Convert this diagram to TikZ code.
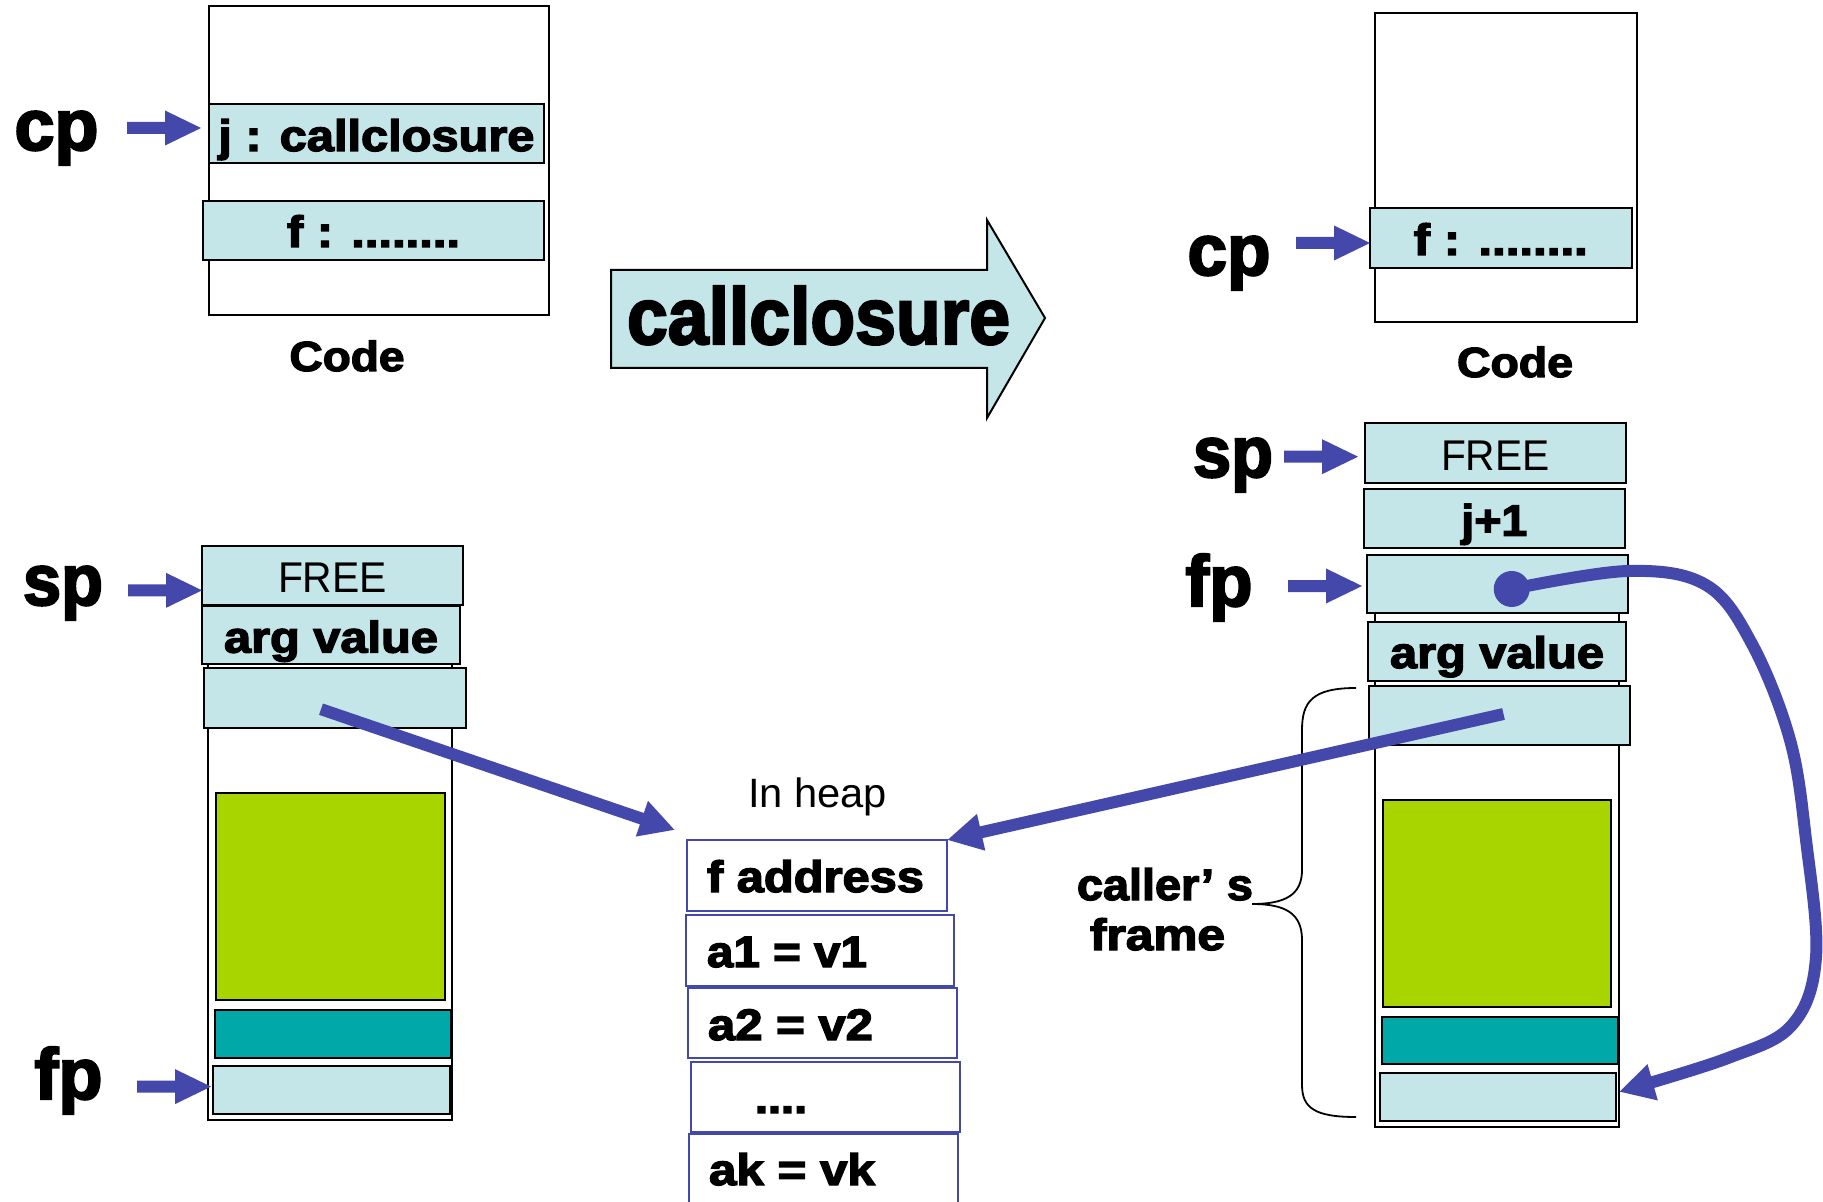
\documentclass[tikz,border=0pt]{standalone}
\usepackage{fontspec}
\usepackage{graphicx}
\usetikzlibrary{arrows.meta,calc}
\newfontfamily\hv[BoldFeatures={FakeBold=3}]{Liberation Sans}
\newcommand\hvb{\hv\bfseries}
\newcommand\fitw[2]{\resizebox{#1}{\height}{#2}}
\definecolor{cellc}{RGB}{196,230,232}
\definecolor{greenc}{RGB}{168,212,0}
\definecolor{tealc}{RGB}{0,168,168}
\definecolor{bluec}{RGB}{68,72,170}
\newcommand\mkbox[7]{\node[#6, minimum width={(#4-(#2))*0.5pt}, minimum height={(#5-(#3))*0.5pt}] (#1) at ({(#2+#4)/2},{(#3+#5)/2}) {#7};}
\begin{document}
\begin{tikzpicture}[x=0.5pt, y=-0.5pt,
  every node/.style={inner sep=0pt, outer sep=0pt},
  bl/.style={text height=#1, text depth=0pt},
  plain/.style={draw=black, line width=1pt, fill=white},
  cell/.style={draw=black, line width=1pt, fill=cellc},
  greenbox/.style={draw=black, line width=1pt, fill=greenc},
  tealbox/.style={draw=black, line width=1pt, fill=tealc},
  heap/.style={draw=bluec, line width=1pt, fill=white},
  bodyb/.style={font=\hvb\fontsize{22pt}{26pt}\selectfont},
  bodyr/.style={font=\hv\fontsize{21.5pt}{26pt}\selectfont},
  biglbl/.style={font=\hvb\fontsize{36pt}{40pt}\selectfont, anchor=base},
  codelbl/.style={font=\hvb\fontsize{21pt}{24pt}\selectfont, anchor=base},
  conn/.style={draw=bluec, line width=6pt, -{Triangle[length=17.5pt,width=17.5pt]}},
  barrow/.pic={\fill[bluec] (0,0) -- (-36,-17.5) -- (-36,-6) -- (-74,-6) -- (-74,6) -- (-36,6) -- (-36,17.5) -- cycle;}
]
\fill[white] (0,0) rectangle (1823,1202);
\useasboundingbox (0,0) rectangle (1823,1202);

% ---- left code ----
\mkbox{lcode}{208.6}{6}{548.8}{315}{plain}{}
\mkbox{ljbox}{208.6}{104}{544.2}{163}{cell,bodyb,bl=17.5pt}{\fitw{158pt}{j : callclosure}}
\mkbox{lfbox}{202.8}{201}{544.2}{260}{cell,bodyb,bl=16.5pt}{\fitw{86.5pt}{f : ........}}
\node[codelbl] (codeL) at (347,371) {\fitw{57.5pt}{Code}};
\node[biglbl] (cpL) at (56.5,150) {\fitw{42pt}{cp}};
\pic at ($(ljbox.west)+(-7.6,-5.5)$) {barrow};

% ---- right code ----
\mkbox{rcode}{1375}{13}{1637}{322}{plain}{}
\mkbox{rfbox}{1370}{208}{1631.5}{268}{cell,bodyb,bl=17pt}{\fitw{87pt}{f : ........}}
\node[codelbl] (codeR) at (1515,377) {\fitw{58pt}{Code}};
\node[biglbl] (cpR) at (1229,275) {\fitw{41.5pt}{cp}};
\pic at ($(rfbox.west)+(0,5)$) {barrow};

% ---- big arrow ----
\draw[draw=black, line width=1pt, fill=cellc] (611,270) -- (987,270) -- (987,220) -- (1045,318) -- (987,418) -- (987,368) -- (611,368) -- cycle;
\node[font=\hvb\fontsize{40pt}{44pt}\selectfont, anchor=base] (ccl) at (818.5,344) {\fitw{191.5pt}{callclosure}};

% ---- left stack ----
\mkbox{lstack}{208}{620}{452}{1120}{plain}{}
\mkbox{lfree}{202}{545.7}{463}{605}{cell,bodyr,bl=17.6pt}{\fitw{54.5pt}{FREE}}
\mkbox{larg}{202}{605.8}{460}{664.3}{cell,bodyb,bl=17.5pt}{\fitw{107pt}{arg value}}
\mkbox{lclos}{204}{668}{466}{728.4}{cell}{}
\mkbox{lgreen}{216}{792.8}{445}{1000.4}{greenbox}{}
\mkbox{lteal}{215}{1009.5}{451}{1057.8}{tealbox}{}
\mkbox{lbot}{213}{1065.7}{450}{1114.3}{cell}{}
\node[biglbl] (spL) at (63,605) {\fitw{40pt}{sp}};
\node[biglbl] (fpL) at (68.5,1099) {\fitw{34pt}{fp}};
\pic at ($(lfree.west)+(0,15)$) {barrow};
\pic at ($(lbot.west)+(-2,-3.4)$) {barrow};

% ---- right stack ----
\mkbox{rstack}{1375.4}{580}{1618.5}{1127}{plain}{}
\mkbox{rfree}{1364.6}{423}{1626}{483.4}{cell,bodyr,bl=17pt}{\fitw{54.3pt}{FREE}}
\mkbox{rj}{1363.6}{488.7}{1625}{547.8}{cell,bodyb,bl=17.5pt}{\fitw{33pt}{j+1}}
\mkbox{rfp}{1367}{555}{1628.4}{613}{cell}{}
\mkbox{rarg}{1368}{622}{1626}{681}{cell,bodyb,bl=16.5pt}{\fitw{107pt}{arg value}}
\mkbox{rclos}{1369}{686}{1630}{745}{cell}{}
\mkbox{rgreen}{1383}{800}{1611}{1007}{greenbox}{}
\mkbox{rteal}{1382}{1016.6}{1618}{1064}{tealbox}{}
\mkbox{rbot}{1380}{1072.8}{1616}{1120.8}{cell}{}
\node[biglbl] (spR) at (1233,477) {\fitw{40pt}{sp}};
\node[biglbl] (fpR) at (1219,606) {\fitw{33.5pt}{fp}};
\pic at ($(rfree.west)+(-6.6,3.5)$) {barrow};
\pic at ($(rfp.west)+(-5,2)$) {barrow};

% ---- heap ----
\node[font=\hv\fontsize{20.5pt}{24pt}\selectfont, anchor=base] (heaplbl) at (817.5,807) {\fitw{69.5pt}{In heap}};
\mkbox{hf}{687}{840}{947}{911}{heap,bodyb,bl=16.5pt}{\makebox[130pt][l]{\hspace*{10pt}\fitw{108.5pt}{f address}}}
\mkbox{ha1}{686}{915}{954}{986}{heap,bodyb,bl=16.5pt}{\makebox[134pt][l]{\hspace*{10.5pt}\fitw{80pt}{a1 = v1}}}
\mkbox{ha2}{688}{988}{957}{1058}{heap,bodyb,bl=17pt}{\makebox[134.5pt][l]{\hspace*{10pt}\fitw{82.5pt}{a2 = v2}}}
\mkbox{hdots}{691}{1062}{960}{1132}{heap,bodyb,bl=16pt}{\makebox[134.5pt][l]{\hspace*{32pt}\fitw{26pt}{....}}}
\mkbox{hak}{689}{1134}{958}{1215}{heap,bodyb,bl=10.5pt}{\makebox[134.5pt][l]{\hspace*{10pt}\fitw{83pt}{ak = vk}}}

% ---- brace and caller's frame ----
\draw[black, line width=0.9pt] (1356,688) .. controls (1312,688) and (1302,702) .. (1302,730) -- (1302,870) .. controls (1302,895) and (1285,904) .. (1252,904) .. controls (1285,904) and (1302,913) .. (1302,940) -- (1302,1085) .. controls (1302,1108) and (1315,1117) .. (1356,1117);
\node[bodyb, anchor=base] (callerA) at (1165,900) {\fitw{88pt}{caller’ s}};
\node[bodyb, anchor=base] (callerB) at (1157.5,950) {\fitw{67.5pt}{frame}};

% ---- connectors ----
\draw[conn] ($(lclos.center)+(-14,11)$) -- ($(hf.north west)+(-12,-10)$);
\draw[conn] ($(rclos.center)+(4,-1.5)$) -- (hf.north east);
\node[circle, fill=bluec, minimum size=18pt] (dot) at ($(rfp.center)+(14,5)$) {};
\coordinate (fpend) at ($(rbot.east)+(3,-5)$);
\draw[conn] plot[smooth, tension=0.6] coordinates {(dot.center) (1628,571) (1706,585) (1752,644) (1790,740) (1806,840) (1816,957) (1792,1025) (1728,1058) (fpend)};
\end{tikzpicture}
\end{document}
